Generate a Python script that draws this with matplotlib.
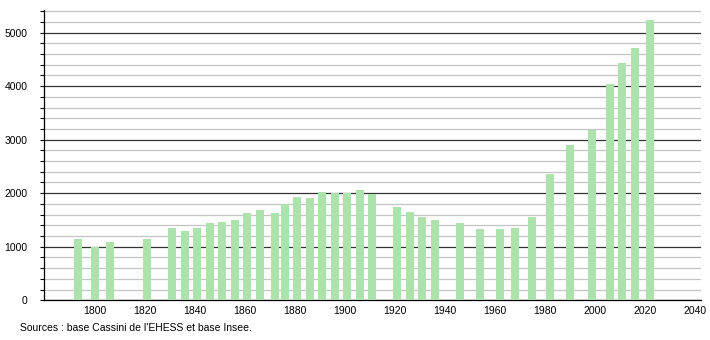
import matplotlib
matplotlib.use("Agg")
import matplotlib.pyplot as plt
from matplotlib.ticker import MultipleLocator

plt.rcParams['font.family'] = ['Liberation Sans', 'DejaVu Sans']

years = [1793, 1800, 1806, 1821, 1831, 1836, 1841, 1846, 1851, 1856, 1861, 1866,
         1872, 1876, 1881, 1886, 1891, 1896, 1901, 1906, 1911, 1921, 1926, 1931,
         1936, 1946, 1954, 1962, 1968, 1975, 1982, 1990, 1999, 2006, 2011, 2016, 2022]
population = [1146, 990, 1083, 1146, 1345, 1289, 1345, 1438, 1457, 1500, 1625, 1681,
              1625, 1793, 1924, 1918, 2017, 2005, 2005, 2067, 1980, 1737, 1656, 1550,
              1494, 1438, 1326, 1326, 1345, 1550, 2354, 2895, 3182, 4035, 4427, 4714, 5243]
xticks = [1800, 1820, 1840, 1860, 1880, 1900, 1920, 1940, 1960, 1980, 2000, 2020, 2040]
yticks = [0, 1000, 2000, 3000, 4000, 5000]
source = "Sources : base Cassini de l'EHESS et base Insee."

fig = plt.figure(figsize=(7.1, 3.4), dpi=100)
ax = fig.add_axes([0.062, 0.117, 0.925, 0.853])

ax.bar(years, population, width=3.2, color='#ace3ac', zorder=3)

ax.set_xlim(1779.6, 2042.4)
ax.set_ylim(0, 5420)
ax.set_xticks(xticks)
ax.set_xticklabels([str(x) for x in xticks])
ax.set_yticks(yticks)
ax.yaxis.set_minor_locator(MultipleLocator(200))

ax.grid(axis='y', which='minor', color='#c4c4c4', linewidth=0.9, zorder=1)
ax.grid(axis='y', which='major', color='#333333', linewidth=0.9, zorder=2)

ax.tick_params(axis='x', length=0, pad=4, labelsize=7.5)
ax.tick_params(axis='y', which='major', length=3, width=0.8, direction='out', pad=9, labelsize=7.5)
ax.tick_params(axis='y', which='minor', length=3, width=0.8, direction='out')

for s in ['top', 'right']:
    ax.spines[s].set_visible(False)
ax.spines['left'].set_color('black')
ax.spines['bottom'].set_color('black')
ax.spines['left'].set_linewidth(0.9)
ax.spines['bottom'].set_linewidth(0.9)

fig.text(20 / 710, 1 - 328 / 340, source, fontsize=7.5, va='center', ha='left')

fig.savefig('out.png', dpi=100)
